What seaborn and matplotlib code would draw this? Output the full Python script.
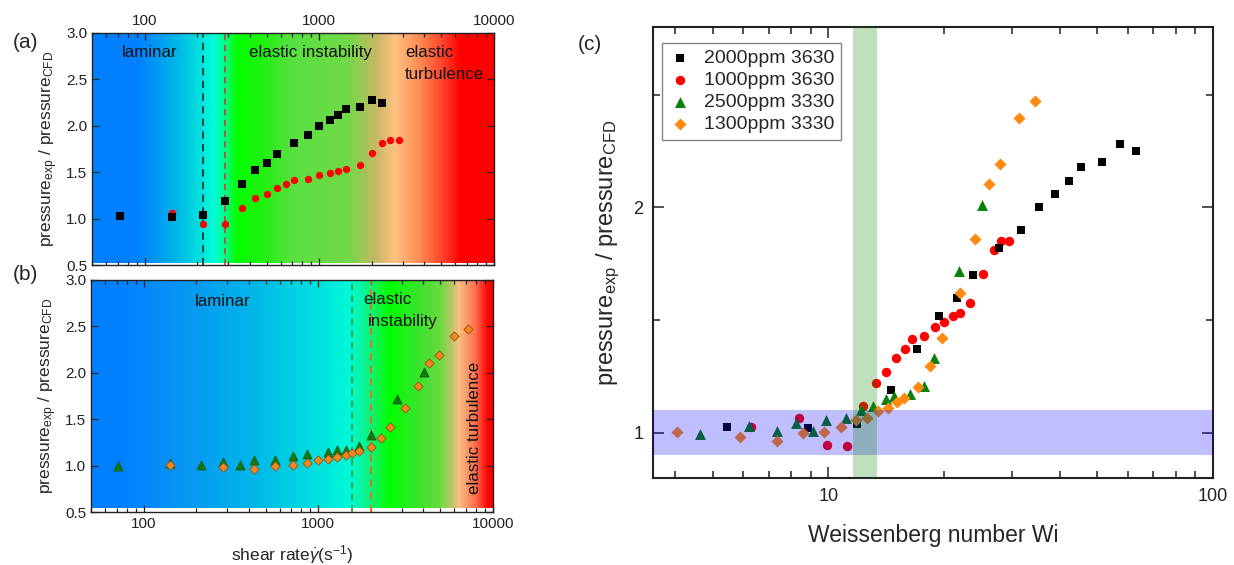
import numpy as np
import matplotlib
matplotlib.use("Agg")
import matplotlib.pyplot as plt
from matplotlib.colors import LinearSegmentedColormap
from matplotlib.ticker import FixedLocator, NullFormatter, LogLocator
import seaborn as sns

# ---------------- data ----------------
# pressure ratio p_exp / p_CFD for each polymer solution
ratio_2000_3630 = [1.025, 1.02, 1.04, 1.19, 1.37, 1.52, 1.60, 1.70, 1.82, 1.90, 2.00,
                   2.06, 2.115, 2.18, 2.20, 2.28, 2.25]
ratio_1000_3630 = [1.025, 1.065, 0.945, 0.942, 1.118, 1.22, 1.27, 1.333, 1.37, 1.416,
                   1.43, 1.47, 1.493, 1.518, 1.532, 1.577, 1.705, 1.81, 1.85, 1.85]
ratio_2500_3330 = [0.995, 1.03, 1.008, 1.042, 1.008, 1.057, 1.065, 1.10, 1.12, 1.15,
                   1.165, 1.172, 1.21, 1.333, 1.718, 2.01]
ratio_1300_3330 = [1.002, 0.98, 0.965, 1.0, 1.003, 1.025, 1.055, 1.068, 1.095, 1.11,
                   1.137, 1.154, 1.203, 1.295, 1.42, 1.622, 1.86, 2.103, 2.192, 2.396, 2.47]

# shear rates (1/s)
shear_2000_3630 = [72, 144, 215, 288, 359, 430, 502, 571, 714, 858, 1000, 1145, 1283,
                   1430, 1711, 2003, 2284]
shear_1000_3630 = [72, 144, 215, 288, 359, 430, 502, 571, 643, 714, 858, 1000, 1145,
                   1283, 1430, 1711, 2003, 2284, 2556, 2850]
shear_2500_3330 = [71, 142, 213, 286, 356, 428, 567, 713, 857, 1140, 1284, 1433, 1717,
                   2002, 2833, 4008]
shear_1300_3330 = [142, 286, 428, 567, 713, 857, 995, 1140, 1284, 1433, 1566, 1717,
                   2002, 2290, 2580, 3145, 3736, 4300, 4885, 6000, 7180]

# Weissenberg numbers
wi_2000_3630 = [5.45, 8.85, 11.84, 14.51, 17.0, 19.36, 21.6, 23.7, 27.8, 31.7, 35.3,
                38.8, 42.3, 45.4, 51.5, 57.4, 63.2]
wi_1000_3630 = [6.28, 8.39, 9.94, 11.2, 12.3, 13.26, 14.14, 15.0, 15.8, 16.5, 17.77,
                18.9, 20.03, 21.05, 22.0, 23.4, 25.3, 26.9, 28.1, 29.4]
wi_2500_3330 = [4.64, 6.20, 7.34, 8.26, 9.14, 9.84, 11.09, 12.13, 13.08, 14.1, 14.8,
                16.35, 17.7, 18.8, 21.8, 25.1]
wi_1300_3330 = [4.04, 5.90, 7.37, 8.61, 9.74, 10.8, 11.77, 12.62, 13.45, 14.28, 15.04,
                15.7, 17.1, 18.4, 19.75, 22.0, 24.1, 26.1, 27.87, 31.35, 34.5]

series_labels = ["2000ppm 3630", "1000ppm 3630", "2500ppm 3330", "1300ppm 3330"]

# onset shear rates of the elastic instability
onset_a = [215, 288]
onset_b = [1565, 2000]
# critical Wi band and the +-10 % band around unity
wi_critical = [11.6, 13.4]
ratio_band = [0.9, 1.1]

# ---------------- style ----------------
sns.set_theme(style="ticks")
plt.rcParams["font.family"] = ["Liberation Sans", "DejaVu Sans"]
plt.rcParams["mathtext.fontset"] = "custom"
plt.rcParams["mathtext.rm"] = "Liberation Sans"
plt.rcParams["mathtext.it"] = "Liberation Sans:italic"
plt.rcParams["mathtext.bf"] = "Liberation Sans:bold"

YLABEL = r"pressure$_{\mathrm{exp}}$ / pressure$_{\mathrm{CFD}}$"

fig = plt.figure(figsize=(12.34, 5.65), dpi=100)
W, H = 1234, 565


def px_axes(left, top, right, bottom):
    return fig.add_axes([left / W, 1 - bottom / H, (right - left) / W, (bottom - top) / H])


def regime_background(ax, stops, y0, y1, lo=50, hi=10000):
    llo, lhi = np.log10(lo), np.log10(hi)
    pos = [(np.log10(v) - llo) / (lhi - llo) for v, _ in stops]
    cmap = LinearSegmentedColormap.from_list("regime", list(zip(pos, [c for _, c in stops])))
    edges = np.logspace(llo, lhi, 801)
    centers = np.sqrt(edges[:-1] * edges[1:])
    vals = (np.log10(centers) - llo) / (lhi - llo)
    ax.pcolormesh(edges, [y0, y1], vals[None, :], cmap=cmap, vmin=0, vmax=1,
                  shading="flat", zorder=0, rasterized=True)


stops_a = [(50, "#0080ff"), (92, "#0080ff"), (146, "#00b0e8"), (190, "#00d4e0"),
           (246, "#00fcd8"), (285, "#00ff90"), (337, "#00ff00"), (475, "#20f010"),
           (700, "#58e040"), (1480, "#72d848"), (2100, "#c2b862"), (2740, "#ffc080"),
           (3850, "#ff8850"), (5500, "#ff3020"), (6500, "#ff0000"), (10000, "#ff0000")]
stops_b = [(50, "#0080ff"), (76, "#0080ff"), (183, "#0898f0"), (443, "#00b8e8"),
           (857, "#00d8e0"), (1510, "#00f8d8"), (2050, "#10f070"), (2560, "#00ff00"),
           (3940, "#40e030"), (5140, "#70d840"), (5800, "#b8c468"), (6440, "#f8c080"),
           (8000, "#ff7050"), (9500, "#ff0000"), (10000, "#ff0000")]


def style_shear_axes(ax, top_labels):
    ax.set_xscale("log")
    ax.set_xlim(50, 10000)
    ax.set_ylim(0.5, 3.0)
    ax.set_xticks([100, 1000, 10000])
    ax.set_xticklabels(["100", "1000", "10000"])
    ax.xaxis.set_minor_locator(LogLocator(base=10, subs=np.arange(2, 10)))
    ax.xaxis.set_minor_formatter(NullFormatter())
    ax.set_yticks(np.arange(0.5, 3.01, 0.5))
    ax.set_yticklabels([f"{v:.1f}" for v in np.arange(0.5, 3.01, 0.5)])
    ax.tick_params(which="both", direction="in", top=True, right=True,
                   labelsize=11, colors="#222222", width=0.9)
    ax.tick_params(which="major", length=5)
    ax.tick_params(which="minor", length=3)
    if top_labels:
        ax.tick_params(axis="x", labeltop=True, labelbottom=False)
    for sp in ax.spines.values():
        sp.set_linewidth(1.0)
        sp.set_color("#222222")
    ax.set_ylabel(YLABEL, fontsize=12.5, labelpad=4)


# ---------------- panel (a) ----------------
ax_a = px_axes(92, 33, 494, 265)
regime_background(ax_a, stops_a, 0.525, 3.0)
ax_a.axvline(onset_a[0], color="#153535", ls=(0, (4, 3)), lw=1.3, zorder=1)
ax_a.axvline(onset_a[1], color="#d03030", ls=(0, (4, 3)), lw=1.1, zorder=1)
sns.scatterplot(x=shear_1000_3630, y=ratio_1000_3630, marker="o", color="#ff0000",
                s=28, linewidth=0, ax=ax_a, zorder=3)
sns.scatterplot(x=shear_2000_3630, y=ratio_2000_3630, marker="s", color="black",
                s=26, linewidth=0, ax=ax_a, zorder=4)
style_shear_axes(ax_a, top_labels=True)
ax_a.text(0.075, 0.914, "laminar", transform=ax_a.transAxes, fontsize=12.2,
          va="center", color="#111111")
ax_a.text(0.391, 0.914, "elastic instability", transform=ax_a.transAxes, fontsize=12.2,
          va="center", color="#111111")
ax_a.text(0.779, 0.914, "elastic", transform=ax_a.transAxes, fontsize=12.2,
          va="center", color="#111111")
ax_a.text(0.779, 0.823, "turbulence", transform=ax_a.transAxes, fontsize=12.2,
          va="center", color="#111111")
fig.text(25 / W, 1 - 43 / H, "(a)", fontsize=15, ha="center", va="center")

# ---------------- panel (b) ----------------
ax_b = px_axes(91, 280, 493, 512)
regime_background(ax_b, stops_b, 0.545, 3.0)
ax_b.axvline(onset_b[0], color="#159a30", ls=(0, (4, 3)), lw=1.2, zorder=1)
ax_b.axvline(onset_b[1], color="#e07818", ls=(0, (4, 3)), lw=1.3, zorder=1)
sns.scatterplot(x=shear_2500_3330, y=ratio_2500_3330, marker="^", color="#137a13",
                s=42, linewidth=0.6, edgecolor="#0b5a0b", ax=ax_b, zorder=3)
sns.scatterplot(x=shear_1300_3330, y=ratio_1300_3330, marker="D", color="#f08a20",
                s=22, linewidth=0.6, edgecolor="#9a5214", ax=ax_b, zorder=4)
style_shear_axes(ax_b, top_labels=False)
ax_b.set_xlabel(r"shear rate$\dot{\gamma}$(s$^{-1}$)", fontsize=12.5, labelpad=9)
ax_b.text(0.259, 0.906, "laminar", transform=ax_b.transAxes, fontsize=12.2,
          va="center", color="#111111")
ax_b.text(0.677, 0.914, "elastic", transform=ax_b.transAxes, fontsize=12.2,
          va="center", color="#111111")
ax_b.text(0.689, 0.823, "instability", transform=ax_b.transAxes, fontsize=12.2,
          va="center", color="#111111")
ax_b.text(0.955, 0.363, "elastic turbulence", transform=ax_b.transAxes, fontsize=12.2,
          va="center", ha="center", rotation=90, color="#111111")
fig.text(25 / W, 1 - 275 / H, "(b)", fontsize=15, ha="center", va="center")

# ---------------- panel (c) ----------------
ax_c = px_axes(653, 27, 1213, 478)
sns.scatterplot(x=wi_1000_3630, y=ratio_1000_3630, marker="o", color="#ff0000",
                s=46, linewidth=0, ax=ax_c, zorder=3, label=series_labels[1])
sns.scatterplot(x=wi_2000_3630, y=ratio_2000_3630, marker="s", color="black",
                s=38, linewidth=0, ax=ax_c, zorder=3, label=series_labels[0])
sns.scatterplot(x=wi_2500_3330, y=ratio_2500_3330, marker="^", color="#0a800a",
                s=62, linewidth=0, ax=ax_c, zorder=3, label=series_labels[2])
sns.scatterplot(x=wi_1300_3330, y=ratio_1300_3330, marker="D", color="#ff8a10",
                s=38, linewidth=0, ax=ax_c, zorder=3, label=series_labels[3])
ax_c.axhspan(ratio_band[0], ratio_band[1], color="#0000ff", alpha=0.25, lw=0, zorder=5)
ax_c.axvspan(wi_critical[0], wi_critical[1], color="#008000", alpha=0.25, lw=0, zorder=5)

ax_c.set_xscale("log")
ax_c.set_xlim(3.5, 100)
ax_c.set_ylim(0.8, 2.8)
ax_c.set_xticks([10, 100])
ax_c.set_xticklabels(["10", "100"])
ax_c.xaxis.set_minor_locator(LogLocator(base=10, subs=np.arange(2, 10)))
ax_c.xaxis.set_minor_formatter(NullFormatter())
ax_c.set_yticks([1, 2])
ax_c.set_yticklabels(["1", "2"])
ax_c.yaxis.set_minor_locator(FixedLocator([1.5, 2.5]))
ax_c.tick_params(which="both", direction="in", top=True, right=True,
                 labelsize=13, colors="#222222", width=1.1)
ax_c.tick_params(which="major", length=8, pad=7)
ax_c.tick_params(which="minor", length=5)
for sp in ax_c.spines.values():
    sp.set_linewidth(1.5)
    sp.set_color("#222222")
ax_c.set_xlabel("Weissenberg number Wi", fontsize=16.5, labelpad=14)
ax_c.set_ylabel(YLABEL, fontsize=17, labelpad=8)

handles, labels = ax_c.get_legend_handles_labels()
order = [labels.index(l) for l in series_labels]
leg = ax_c.legend([handles[i] for i in order], [labels[i] for i in order],
                  loc="upper left", bbox_to_anchor=(0.016, 0.965), fontsize=14,
                  frameon=True, fancybox=False, edgecolor="#666666",
                  handletextpad=0.6, labelspacing=0.22, borderpad=0.35,
                  handlelength=1.2, borderaxespad=0)
leg.get_frame().set_linewidth(1.0)
fig.text(590 / W, 1 - 45 / H, "(c)", fontsize=15, ha="center", va="center")

fig.savefig("out.png", dpi=100)
